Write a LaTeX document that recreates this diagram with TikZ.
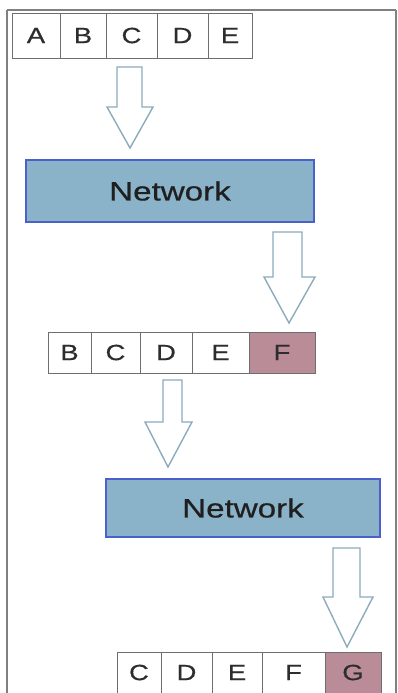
\documentclass[tikz,border=0pt]{standalone}
\usepackage{fontspec}
\usepackage{graphicx}
\setmainfont{Liberation Sans}
\newfontfamily\lblfont[FakeBold=0.5]{Liberation Sans}
\definecolor{netfill}{RGB}{138,178,200}
\definecolor{netborder}{RGB}{76,96,205}
\definecolor{cellborder}{RGB}{110,110,110}
\definecolor{mauve}{RGB}{186,140,152}
\definecolor{arrowline}{RGB}{140,172,188}
\definecolor{framegray}{RGB}{128,128,128}
\definecolor{txt}{RGB}{45,45,45}
\tikzset{
  cellbox/.style={draw=cellborder, line width=0.9pt, fill=white, inner sep=0pt, outer sep=0pt, anchor=north west, text=txt, font=\lblfont\fontsize{22}{22}\selectfont},
  outcell/.style={cellbox, fill=mauve},
  netbox/.style={draw=netborder, line width=2.6pt, fill=netfill, inner sep=0pt, outer sep=0pt, anchor=north west, text=black!88, font=\lblfont\fontsize{26.5}{26.5}\selectfont},
  blockarrow/.style={draw=arrowline, line width=1.4pt, fill=white, line join=miter},
}
\newcommand{\lbl}[1]{\scalebox{1.25}[1]{#1}}
% shaft left, shaft right, top, head start, head left, head right, tip y, tip x
\newcommand{\dnarrow}[8]{\draw[blockarrow] (#1,#3) -- (#2,#3) -- (#2,#4) -- (#6,#4) -- (#8,#7) -- (#5,#4) -- (#1,#4) -- cycle;}
\begin{document}
\begin{tikzpicture}[x=1pt,y=-1pt]
\useasboundingbox (0,0) rectangle (398,693);
\fill[white] (0,0) rectangle (398,693);
\draw[framegray, line width=2pt] (7,10) -- (396,10);
\draw[framegray, line width=2pt] (7,10) -- (7,693);
\draw[framegray, line width=2pt] (396,10) -- (396,693);
% row 1
\node[cellbox, minimum width=48pt, minimum height=45pt] (a1) at (12,13) {\lbl{A}};
\node[cellbox, minimum width=46pt, minimum height=45pt] (b1) at (60,13) {\lbl{B}};
\node[cellbox, minimum width=51pt, minimum height=45pt] (c1) at (106,13) {\lbl{C}};
\node[cellbox, minimum width=51pt, minimum height=45pt] (d1) at (157,13) {\lbl{D}};
\node[cellbox, minimum width=44pt, minimum height=45pt] (e1) at (208,13) {\lbl{E}};
% network 1
\node[netbox, minimum width=288pt, minimum height=62pt] (net1) at (26,160) {\lbl{Network}};
% row 2
\node[cellbox, minimum width=43pt, minimum height=41pt] (b2) at (48,332) {\lbl{B}};
\node[cellbox, minimum width=49pt, minimum height=41pt] (c2) at (91,332) {\lbl{C}};
\node[cellbox, minimum width=52pt, minimum height=41pt] (d2) at (140,332) {\lbl{D}};
\node[cellbox, minimum width=57pt, minimum height=41pt] (e2) at (192,332) {\lbl{E}};
\node[outcell, minimum width=66pt, minimum height=41pt] (f2) at (249,332) {\lbl{F}};
% network 2
\node[netbox, minimum width=274pt, minimum height=58pt] (net2) at (106,479) {\lbl{Network}};
% row 3
\node[cellbox, minimum width=44pt, minimum height=41pt] (c3) at (117,652) {\lbl{C}};
\node[cellbox, minimum width=51pt, minimum height=41pt] (d3) at (161,652) {\lbl{D}};
\node[cellbox, minimum width=50pt, minimum height=41pt] (e3) at (212,652) {\lbl{E}};
\node[cellbox, minimum width=63pt, minimum height=41pt] (f3) at (262,652) {\lbl{F}};
\node[outcell, minimum width=56pt, minimum height=41pt] (g3) at (325,652) {\lbl{G}};
% block arrows
\dnarrow{117}{142}{67}{107}{107}{153}{148}{130}
\dnarrow{273}{302}{232}{277}{264}{315}{323}{289}
\dnarrow{163}{182}{380}{422}{145}{192}{467}{168}
\dnarrow{333}{360}{548}{597}{323}{373}{647}{347}
\end{tikzpicture}
\end{document}
